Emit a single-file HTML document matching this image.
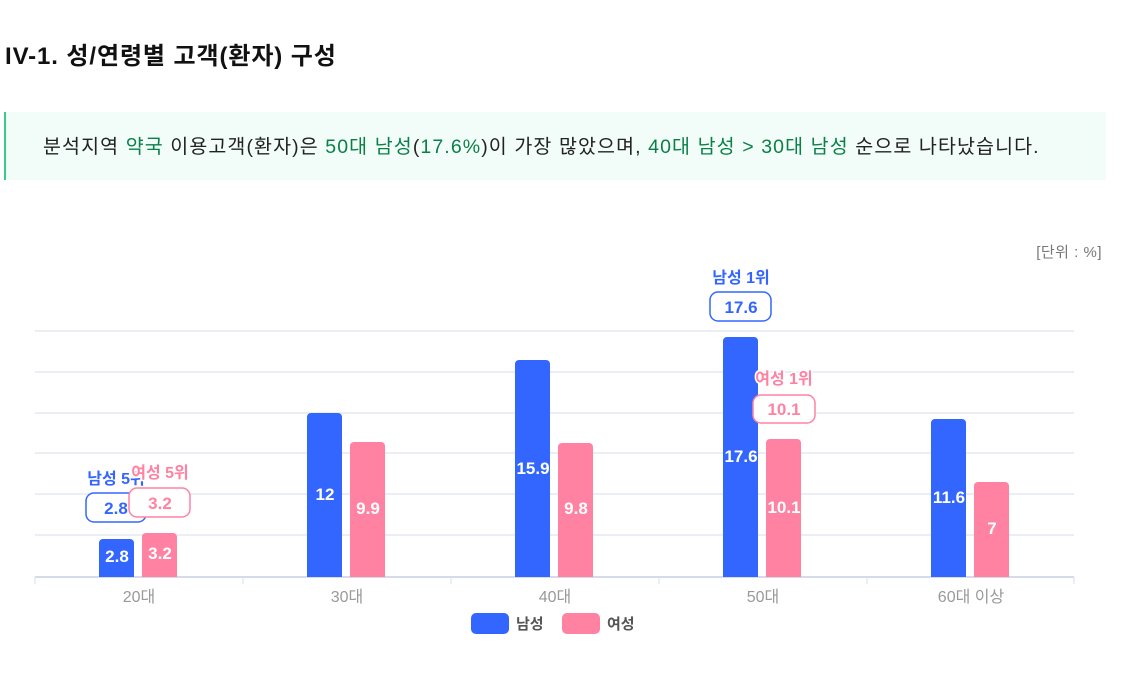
<!DOCTYPE html>
<html><head><meta charset="utf-8"><style>
body{margin:0;width:1134px;height:679px;background:#fff;font-family:"Liberation Sans","Noto Sans CJK KR",sans-serif;position:relative;overflow:hidden}
.t{position:absolute;left:5px;top:36px;font-size:24px;font-weight:bold;color:#111;letter-spacing:0.9px}
.box{position:absolute;left:4px;top:112px;width:1100px;height:68px;background:#f2fcf8;border-left:2px solid #3cc98a}
.box p{margin:0;position:absolute;left:37px;top:18px;font-size:19.5px;color:#222;letter-spacing:1.1px;white-space:nowrap}
.g{color:#0a8048}
.unit{position:absolute;right:32px;top:241px;font-size:15px;color:#777;letter-spacing:0.5px}
</style></head><body>
<div class="t">IV-1. 성/연령별 고객(환자) 구성</div>
<div class="box"><p>분석지역 <span class="g">약국</span> 이용고객(환자)은 <span class="g">50대 남성</span>(<span class="g">17.6%</span>)이 가장 많았으며, <span class="g">40대 남성 &gt; 30대 남성</span> 순으로 나타났습니다.</p></div>
<div class="unit">[단위 : %]</div>
<svg width="1134" height="679" style="position:absolute;left:0;top:0" font-family="Liberation Sans, Noto Sans CJK KR, sans-serif">
<g stroke="#e0e4f0" stroke-width="1.3">
<line x1="35" x2="1074" y1="331" y2="331"/><line x1="35" x2="1074" y1="372" y2="372"/><line x1="35" x2="1074" y1="413" y2="413"/><line x1="35" x2="1074" y1="453" y2="453"/><line x1="35" x2="1074" y1="494" y2="494"/><line x1="35" x2="1074" y1="535" y2="535"/>
<line x1="35" x2="1074" y1="577" y2="577" stroke="#d5dbe8" stroke-width="2"/>
<line x1="35" x2="35" y1="577" y2="584"/><line x1="243" x2="243" y1="577" y2="584"/><line x1="451" x2="451" y1="577" y2="584"/><line x1="659" x2="659" y1="577" y2="584"/><line x1="867" x2="867" y1="577" y2="584"/><line x1="1074" x2="1074" y1="577" y2="584"/>
</g>
<g>
<path d="M99 577V543a4 4 0 0 1 4-4h27a4 4 0 0 1 4 4V577Z" fill="#3366ff"/>
<path d="M142 577V537a4 4 0 0 1 4-4h27a4 4 0 0 1 4 4V577Z" fill="#ff82a3"/>
<path d="M307 577V417a4 4 0 0 1 4-4h27a4 4 0 0 1 4 4V577Z" fill="#3366ff"/>
<path d="M350 577V446a4 4 0 0 1 4-4h27a4 4 0 0 1 4 4V577Z" fill="#ff82a3"/>
<path d="M515 577V364a4 4 0 0 1 4-4h27a4 4 0 0 1 4 4V577Z" fill="#3366ff"/>
<path d="M558 577V447a4 4 0 0 1 4-4h27a4 4 0 0 1 4 4V577Z" fill="#ff82a3"/>
<path d="M723 577V341a4 4 0 0 1 4-4h27a4 4 0 0 1 4 4V577Z" fill="#3366ff"/>
<path d="M766 577V443a4 4 0 0 1 4-4h27a4 4 0 0 1 4 4V577Z" fill="#ff82a3"/>
<path d="M931 577V423a4 4 0 0 1 4-4h27a4 4 0 0 1 4 4V577Z" fill="#3366ff"/>
<path d="M974 577V486a4 4 0 0 1 4-4h27a4 4 0 0 1 4 4V577Z" fill="#ff82a3"/>
</g>
<g fill="#fff" font-size="17" font-weight="bold" text-anchor="middle">
<text x="117" y="562">2.8</text><text x="160" y="559">3.2</text>
<text x="325" y="500">12</text><text x="368" y="514">9.9</text>
<text x="533" y="474">15.9</text><text x="576" y="514">9.8</text>
<text x="741" y="462">17.6</text><text x="784" y="513">10.1</text>
<text x="949" y="503">11.6</text><text x="992" y="534">7</text>
</g>
<g fill="#999" font-size="16" text-anchor="middle">
<text x="139" y="602">20대</text><text x="347" y="602">30대</text><text x="555" y="602">40대</text><text x="763" y="602">50대</text><text x="971" y="602">60대 이상</text>
</g>
<g font-weight="bold" text-anchor="middle">
<text x="741" y="283" font-size="16" fill="#3366ff">남성 1위</text>
<rect x="710" y="292" width="61" height="29" rx="8" fill="#fff" stroke="#3366ff" stroke-width="1.5"/>
<text x="741" y="313" font-size="17" fill="#3366ff">17.6</text>
<text x="784" y="384" font-size="16" fill="#ff82a3" stroke="#fff" stroke-width="3" paint-order="stroke">여성 1위</text>
<rect x="753" y="395" width="62" height="28" rx="8" fill="#fff" stroke="#ff82a3" stroke-width="1.5"/>
<text x="784" y="415" font-size="17" fill="#ff82a3">10.1</text>
<text x="116" y="484" font-size="16" fill="#3366ff">남성 5위</text>
<rect x="86" y="493" width="60" height="29" rx="8" fill="#fff" stroke="#3366ff" stroke-width="1.5"/>
<text x="116" y="514" font-size="17" fill="#3366ff">2.8</text>
<text x="160" y="478" font-size="16" fill="#ff82a3" stroke="#fff" stroke-width="3" paint-order="stroke">여성 5위</text>
<rect x="129" y="488" width="61" height="29" rx="8" fill="#fff" stroke="#ff82a3" stroke-width="1.5"/>
<text x="160" y="509" font-size="17" fill="#ff82a3">3.2</text>
</g>
<rect x="471" y="613" width="38" height="21" rx="5" fill="#3366ff"/>
<text x="516" y="629" font-size="15" font-weight="bold" fill="#555">남성</text>
<rect x="562" y="613" width="38" height="21" rx="5" fill="#ff82a3"/>
<text x="607" y="629" font-size="15" font-weight="bold" fill="#555">여성</text>
</svg>
</body></html>
